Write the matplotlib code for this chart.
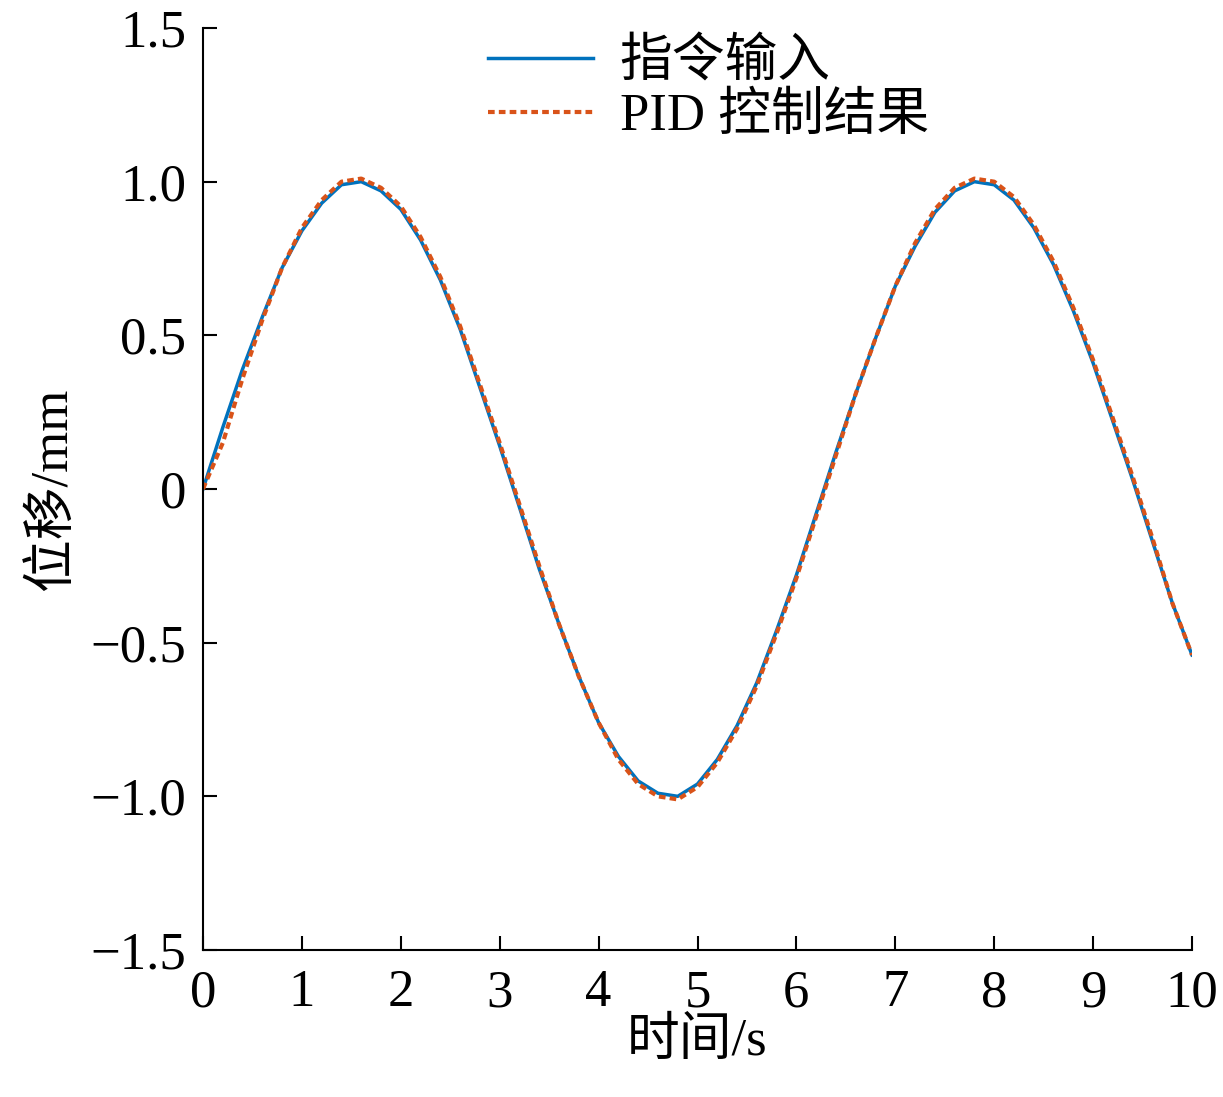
import matplotlib.pyplot as plt

plt.rcParams['font.family'] = ['Liberation Serif', 'Noto Sans CJK SC']
plt.rcParams['axes.unicode_minus'] = True

# values, every 0.2 s
t = [i * 0.2 for i in range(51)]
cmd = [0.00, 0.20, 0.39, 0.56, 0.72, 0.84, 0.93, 0.99, 1.00, 0.97,
       0.91, 0.81, 0.68, 0.52, 0.33, 0.14, -0.06, -0.26, -0.44, -0.61,
       -0.76, -0.87, -0.95, -0.99, -1.00, -0.96, -0.88, -0.77, -0.63, -0.46,
       -0.28, -0.08, 0.12, 0.31, 0.49, 0.66, 0.79, 0.90, 0.97, 1.00,
       0.99, 0.94, 0.85, 0.73, 0.58, 0.41, 0.22, 0.03, -0.17, -0.37, -0.54]
pid = [0.00, 0.15, 0.36, 0.55, 0.72, 0.85, 0.94, 1.00, 1.01, 0.98,
       0.92, 0.82, 0.69, 0.53, 0.34, 0.15, -0.05, -0.25, -0.44, -0.61,
       -0.76, -0.88, -0.96, -1.00, -1.01, -0.97, -0.89, -0.78, -0.64, -0.47,
       -0.29, -0.09, 0.11, 0.31, 0.49, 0.66, 0.80, 0.91, 0.98, 1.01,
       1.00, 0.95, 0.86, 0.74, 0.59, 0.42, 0.23, 0.04, -0.16, -0.37, -0.54]

fig = plt.figure(figsize=(12.23, 10.97), dpi=100)
ax = fig.add_axes([203/1223, 1 - 950/1097, 989/1223, 922/1097])
ax.plot(t, cmd, color='#0072BD', lw=2.5, label='指令输入')
ax.plot(t, pid, color='#D95319', lw=3, ls=(0, (1.6, 1.0)), label='PID 控制结果')

ax.set_xlim(0, 10)
ax.set_ylim(-1.5, 1.5)
ax.set_xticks(range(11))
ax.set_yticks([-1.5, -1.0, -0.5, 0, 0.5, 1.0, 1.5])
ax.set_yticklabels(['\u22121.5', '\u22121.0', '\u22120.5', '0', '0.5', '1.0', '1.5'])
ax.tick_params(direction='in', length=10, width=1.5, labelsize=38)
ax.tick_params(axis='x', pad=14)
ax.tick_params(axis='y', pad=12)
for s in ['top', 'right']:
    ax.spines[s].set_visible(False)
for s in ['left', 'bottom']:
    ax.spines[s].set_linewidth(1.5)
ax.set_xlabel('时间/s', fontsize=38, labelpad=0)
ax.set_ylabel('位移/mm', fontsize=38, labelpad=10)
ax.legend(loc='upper left', bbox_to_anchor=(0.24, 1.04), frameon=False,
          fontsize=38, handlelength=2.0, labelspacing=0.1, handletextpad=0.5)
fig.savefig('out.png', dpi=100)
